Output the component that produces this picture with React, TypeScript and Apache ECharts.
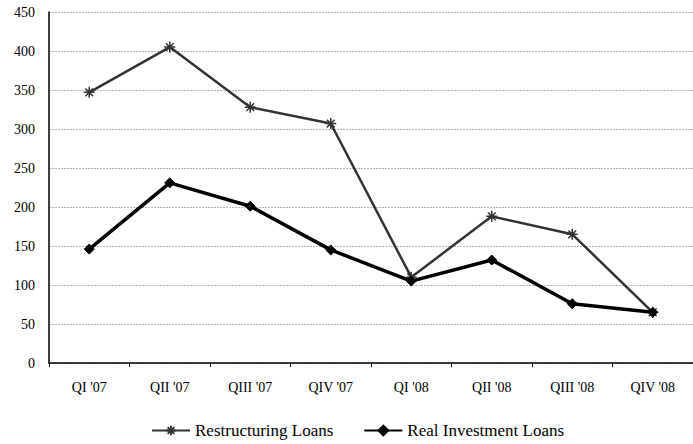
import React, { useEffect, useRef } from "react";
import * as echarts from "echarts";

const categories = ["QI '07", "QII '07", "QIII '07", "QIV '07", "QI '08", "QII '08", "QIII '08", "QIV '08"];
const restructuringLoans = [347, 405, 328, 307, 110, 188, 165, 65];
const realInvestmentLoans = [146, 231, 201, 145, 105, 132, 76, 65];
const yTicks = [0, 50, 100, 150, 200, 250, 300, 350, 400, 450];

const asterisk = "path://M0,5L10,5M5,0L5,10M1.5,1.5L8.5,8.5M8.5,1.5L1.5,8.5";
const font = "Liberation Serif, Times New Roman, Times, DejaVu Serif, serif";

export default function App() {
  const ref = useRef<HTMLDivElement>(null);
  useEffect(() => {
    if (!ref.current) return;
    const chart = echarts.init(ref.current, null, { renderer: "svg" });
    chart.setOption({
      animation: false,
      backgroundColor: "#ffffff",
      textStyle: { fontFamily: font, color: "#000" },
      grid: { left: 49, right: -9, top: 12, bottom: 81, containLabel: false },
      legend: {
        left: 146,
        top: 417,
        itemWidth: 38,
        itemHeight: 12,
        itemGap: 30,
        textStyle: { fontFamily: font, fontSize: 17, color: "#000" },
        data: ["Restructuring Loans", "Real Investment Loans"],
      },
      xAxis: {
        type: "category",
        data: categories,
        boundaryGap: true,
        axisLine: { lineStyle: { color: "#000", width: 1.5 } },
        axisTick: { show: true, length: 4, lineStyle: { color: "#000" } },
        axisLabel: { fontFamily: font, fontSize: 14, color: "#000", margin: 17 },
        splitLine: { show: false },
      },
      yAxis: {
        type: "value",
        min: yTicks[0],
        max: yTicks[yTicks.length - 1],
        interval: 50,
        axisLine: { show: true, lineStyle: { color: "#000", width: 1.5 } },
        axisTick: { show: false },
        axisLabel: { fontFamily: font, fontSize: 14, color: "#000", margin: 14 },
        splitLine: { show: true, lineStyle: { color: "#b5b5b5", type: [2, 1], width: 1 } },
      },
      series: [
        {
          name: "Restructuring Loans",
          type: "line",
          data: restructuringLoans,
          symbol: asterisk,
          symbolSize: 11,
          lineStyle: { color: "#333", width: 2.5 },
          itemStyle: { color: "#333", borderColor: "#333", borderWidth: 1.5 },
          z: 3,
        },
        {
          name: "Real Investment Loans",
          type: "line",
          data: realInvestmentLoans,
          symbol: "diamond",
          symbolSize: 10,
          lineStyle: { color: "#000", width: 3.5 },
          itemStyle: { color: "#000", borderColor: "#000", borderWidth: 1 },
          z: 4,
        },
      ],
    });
    return () => chart.dispose();
  }, []);
  return (
    <div
      ref={ref}
      style={{ position: "fixed", left: 0, top: 0, width: 693, height: 444, background: "#fff" }}
    />
  );
}
